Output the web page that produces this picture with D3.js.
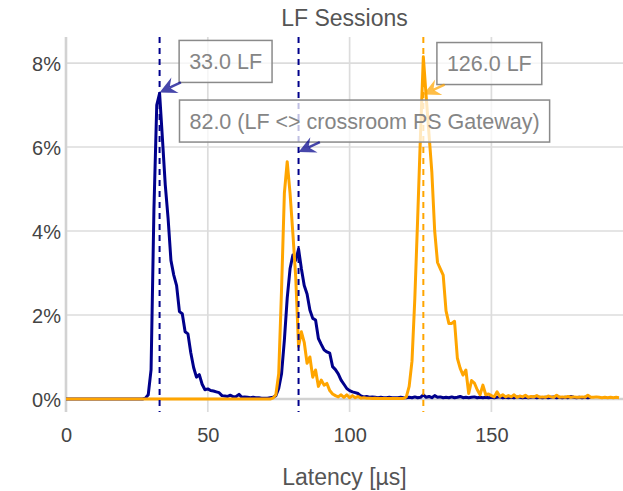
<!DOCTYPE html>
<html><head><meta charset="utf-8">
<script src="https://cdn.jsdelivr.net/npm/d3@7"></script>
<style>body{margin:0;background:#fff}text{font-family:"Liberation Sans",Arial,sans-serif}</style>
</head><body><svg id="c" width="623" height="491"></svg>
<script>
// latency bins (µs)
const latency = [0,1,2,3,4,5,6,7,8,9,10,11,12,13,14,15,16,17,18,19,20,21,22,23,24,25,26,27,28,29,30,31,32,33,34,35,36,37,38,39,40,41,42,43,44,45,46,47,48,49,50,51,52,53,54,55,56,57,58,59,60,61,62,63,64,65,66,67,68,69,70,71,72,73,74,75,76,77,78,79,80,81,82,83,84,85,86,87,88,89,90,91,92,93,94,95,96,97,98,99,100,101,102,103,104,105,106,107,108,109,110,111,112,113,114,115,116,117,118,119,120,121,122,123,124,125,126,127,128,129,130,131,132,133,134,135,136,137,138,139,140,141,142,143,144,145,146,147,148,149,150,151,152,153,154,155,156,157,158,159,160,161,162,163,164,165,166,167,168,169,170,171,172,173,174,175,176,177,178,179,180,181,182,183,184,185,186,187,188,189,190,191,192,193,194,195];
// share of sessions (%) – dark blue series
const blueSeries = [0,0,0,0,0,0,0,0,0,0,0,0,0,0,0,0,0,0,0,0,0,0,0,0,0,0,0,0,
  0.02,0.1,0.7,4.5,7.0,7.28,6.2,5.1,4.3,3.3,2.95,2.7,2.08,2.03,1.6,1.55,1.1,0.75,0.52,0.58,0.35,0.22,
  0.24,0.2,0.19,0.17,0.15,0.08,0.07,0.06,0.09,0.05,0.06,0.11,0.04,0.05,0.04,0.03,0.04,0.03,0.03,0.02,
  0.02,0.02,0.03,0.04,0.08,0.25,0.6,1.4,2.4,3.1,3.43,3.3,3.57,3.1,2.7,2.5,2.12,1.92,1.88,1.44,
  1.3,1.17,1.12,1.09,0.77,0.7,0.6,0.45,0.35,0.25,0.2,0.17,0.15,0.13,0.07,0.05,0.06,0.04,0.05,0.04,
  0.03,0.04,0.03,0.03,0.04,0.03,0.03,0.03,0.04,0.03,0.03,0.04,0.03,0.05,0.03,0.04,0.1,0.04,0.06,0.03,
  0.08,0.04,0.05,0.03,0.04,0.03,0.05,0.03,0.04,0.06,0.03,0.04,0.03,0.04,0.05,0.03,0.04,0.03,0.04,0.03,
  0.04,0.03,0.04,0.05,0.03,0.04,0.03,0.04,0.03,0.05,0.04,0.03,0.04,0.03,0.04,0.05,0.03,0.04,0.03,0.04,
  0.03,0.04,0.05,0.03,0.04,0.03,0.04,0.03,0.06,0.04,0.03,0.04,0.03,0.04,0.03,0.04];
// share of sessions (%) – orange series
const orangeSeries = [0,0,0,0,0,0,0,0,0,0,0,0,0,0,0,0,0,0,0,0,0,0,0,0,0,0,0,0,0,0,0,0,0,0,0,0,0,0,0,0,
  0,0,0,0,0,0,0,0,0,0,0,0,0,0,0,0,0,0,0,0,0,0,0,0,0,0,0,0,0,0,0,0,0,
  0.02,0.1,0.6,2.6,4.9,5.65,4.9,3.94,2.9,1.25,1.6,1.35,0.85,1.0,0.52,0.69,0.3,0.45,0.33,0.37,0.2,
  0.12,0.08,0.05,0.1,0.04,0.1,0.03,0.08,0.03,0.06,0.02,0.03,0.02,0.02,0.01,0.02,0.01,0.01,0.01,0.01,
  0.01,0.01,0.01,0.01,0.01,0.01,0.05,0.3,0.9,2.4,4.3,6.3,8.15,7.2,6.3,5.4,4.0,3.25,3.1,2.95,2.1,1.8,
  1.8,1.85,0.97,0.73,0.57,0.69,0.13,0.44,0.38,0.22,0.1,0.33,0.1,0.12,0.08,0.05,0.17,0.06,0.1,0.05,
  0.08,0.05,0.1,0.04,0.07,0.05,0.09,0.04,0.06,0.05,0.08,0.04,0.05,0.04,0.07,0.05,0.04,0.09,0.04,0.05,
  0.04,0.06,0.04,0.05,0.04,0.04,0.05,0.04,0.09,0.04,0.04,0.05,0.04,0.03,0.04,0.03,0.04,0.03,0.04,0.03];
const xTicks = [0, 50, 100, 150];
const yTicks = [0, 2, 4, 6, 8];
const markerX = [33, 82, 126];
const markerColor = ["#00008b", "#00008b", "#ffa500"];
const annX = [33, 82, 126];
const annY = [7.3, 5.88, 7.25];
const annText = ["33.0 LF", "82.0 (LF <> crossroom PS Gateway)", "126.0 LF"];
const annArrowColor = ["rgba(0,0,139,0.72)", "rgba(0,0,139,0.72)", "rgba(255,165,0,0.72)"];
const titleText = "LF Sessions";
const xTitle = "Latency [µs]";

const W = 623, H = 491;
const m = {l: 66, r: 0, t: 37, b: 79};
const svg = d3.select("#c");
const x = d3.scaleLinear().domain([0, 196.4]).range([m.l, W - m.r]);
const y = d3.scaleLinear().domain([-0.31, 8.62]).range([H - m.b, m.t]);

svg.append("defs").append("clipPath").attr("id", "clip")
  .append("rect").attr("x", m.l).attr("y", m.t).attr("width", W - m.r - m.l).attr("height", H - m.b - m.t);

// grid
const gx = svg.append("g");
gx.selectAll("line.vg").data(xTicks.filter(d => d !== 0)).join("line")
  .attr("x1", d => x(d)).attr("x2", d => x(d)).attr("y1", m.t).attr("y2", H - m.b)
  .attr("stroke", "#dcdcdc").attr("stroke-width", 1.7);
gx.selectAll("line.hg").data(yTicks.filter(d => d !== 0)).join("line")
  .attr("x1", m.l).attr("x2", W - m.r).attr("y1", d => y(d)).attr("y2", d => y(d))
  .attr("stroke", "#dcdcdc").attr("stroke-width", 1.7);
// zero lines
gx.append("line").attr("x1", x(0)).attr("x2", x(0)).attr("y1", m.t).attr("y2", H - m.b)
  .attr("stroke", "#d2d2d2").attr("stroke-width", 2.6);
gx.append("line").attr("x1", m.l).attr("x2", W - m.r).attr("y1", y(0)).attr("y2", y(0))
  .attr("stroke", "#d2d2d2").attr("stroke-width", 2.6);

// axes (labels only)
const xAxis = d3.axisBottom(x).tickValues(xTicks).tickSize(0).tickPadding(0).tickFormat(d3.format("d"));
const ax = svg.append("g").attr("transform", `translate(0,${H - m.b})`).call(xAxis);
ax.select(".domain").remove();
ax.selectAll("text").attr("dy", null).attr("y", 30).attr("fill", "#444").style("font-size", "20px")
  .style("font-family", '"Liberation Sans",Arial,sans-serif');
const yAxis = d3.axisLeft(y).tickValues(yTicks).tickSize(0).tickPadding(0).tickFormat(d => d + "%");
const ay = svg.append("g").attr("transform", `translate(${m.l - 5},0)`).call(yAxis);
ay.select(".domain").remove();
ay.selectAll("text").attr("dy", "0.36em").attr("fill", "#444").style("font-size", "20px")
  .style("font-family", '"Liberation Sans",Arial,sans-serif');

// series
const plot = svg.append("g").attr("clip-path", "url(#clip)");
const line = d3.line().x((d, i) => x(latency[i])).y(d => y(d));
plot.append("path").datum(blueSeries).attr("d", line).attr("fill", "none")
  .attr("stroke", "#00008b").attr("stroke-width", 3).attr("stroke-linejoin", "round");
plot.append("path").datum(orangeSeries).attr("d", line).attr("fill", "none")
  .attr("stroke", "#ffa500").attr("stroke-width", 3).attr("stroke-linejoin", "round");

// dashed markers
svg.selectAll("line.mk").data(markerX).join("line")
  .attr("x1", d => x(d)).attr("x2", d => x(d)).attr("y1", m.t).attr("y2", H - m.b)
  .attr("stroke", (d, i) => markerColor[i]).attr("stroke-width", 2).attr("stroke-dasharray", "6,5");

// annotations
const dx = 66, dy = -31;
annX.forEach((ann, i) => {
  const tx = x(ann), ty = y(annY[i]);
  const cx = tx + dx, cy = ty + dy;
  const g = svg.append("g");
  const t = g.append("text").attr("x", cx).attr("y", cy).attr("dy", "0.36em")
    .attr("text-anchor", "middle").attr("fill", "#858585").style("font-size", "21.5px").text(annText[i]);
  const tw = t.node().getComputedTextLength();
  const bw = tw + 20, bh = 42;
  g.insert("rect", "text").attr("x", cx - bw / 2).attr("y", cy - bh / 2).attr("width", bw).attr("height", bh)
    .attr("fill", "rgba(255,255,255,0.75)").attr("stroke", "#8a8a8a").attr("stroke-width", 1.5);
  // arrow start at box boundary
  const vx = tx - cx, vy = ty - cy;
  const s = Math.min((bw / 2) / Math.abs(vx), (bh / 2) / Math.abs(vy));
  const sx = cx + vx * s, sy = cy + vy * s;
  const len = Math.hypot(tx - sx, ty - sy);
  const ux = (tx - sx) / len, uy = (ty - sy) / len;
  const nx = -uy, ny = ux;
  const L = 17, Wd = 8.5;
  const nxp = tx - ux * L * 0.65, nyp = ty - uy * L * 0.65;
  svg.append("line").attr("x1", sx).attr("y1", sy).attr("x2", nxp).attr("y2", nyp)
    .attr("stroke", annArrowColor[i]).attr("stroke-width", 2.5);
  svg.append("path").attr("d", `M${tx},${ty}L${tx - ux * L + nx * Wd},${ty - uy * L + ny * Wd}L${nxp},${nyp}L${tx - ux * L - nx * Wd},${ty - uy * L - ny * Wd}Z`)
    .attr("fill", annArrowColor[i]);
});

// titles
svg.append("text").attr("x", (m.l + W - m.r) / 2).attr("y", 26).attr("text-anchor", "middle")
  .attr("fill", "#555").style("font-size", "23px").text(titleText);
svg.append("text").attr("x", (m.l + W - m.r) / 2).attr("y", 485).attr("text-anchor", "middle")
  .attr("fill", "#555").style("font-size", "23px").text(xTitle);
</script></body></html>
